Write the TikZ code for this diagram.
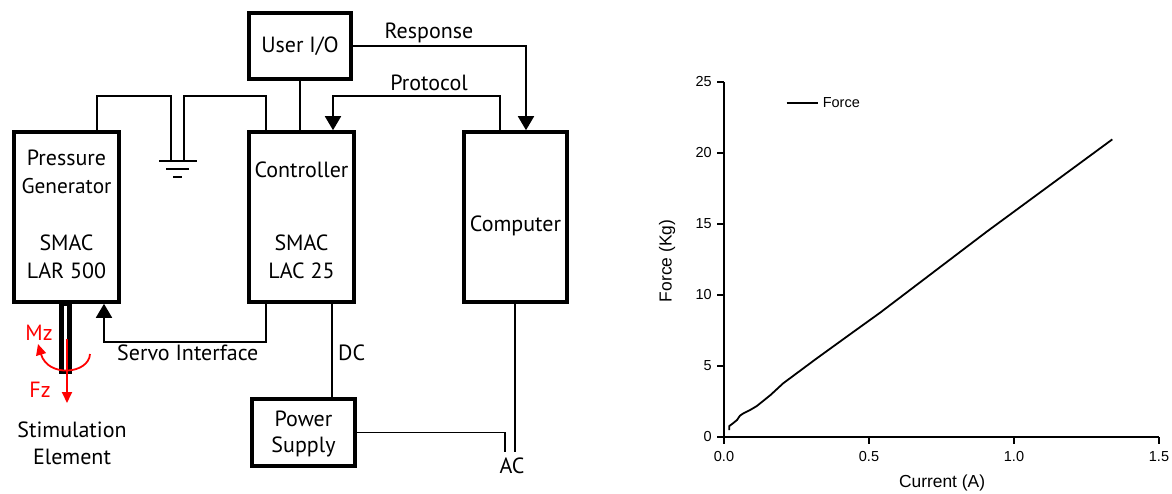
\documentclass[tikz,border=0pt]{standalone}
\usepackage{fontspec}
\setmainfont{PT Sans}
\newfontfamily\plotfont{Liberation Sans}
\usetikzlibrary{arrows.meta,calc}
\begin{document}
\begin{tikzpicture}[x=1pt,y=-1pt,
  box/.style={draw,line width=3.6pt,inner sep=0pt},
  wire/.style={line width=1.8pt},
  arr/.style={wire,-{Triangle[width=16pt,length=14pt]}},
  lbl/.style={font=\fontsize{22}{26}\selectfont,inner sep=0pt},
  rlbl/.style={lbl,text=red},
  redarr/.style={red,line width=1.8pt,-{Triangle[width=10pt,length=11pt]}},
  ax/.style={line width=1.6pt},
  tlbl/.style={font=\plotfont\fontsize{14.5}{17}\selectfont,inner sep=0pt},
  albl/.style={font=\plotfont\fontsize{17.4}{20}\selectfont,inner sep=0pt},
  data/.style={line width=1.8pt,line join=round}
]
\useasboundingbox (0,0) rectangle (1172,494);

% boxes
\node[box,minimum width=105pt,minimum height=170pt] (pg) at (66.5,217) {};
\node[box,minimum width=105pt,minimum height=170pt] (ctrl) at (301.5,217) {};
\node[box,minimum width=103pt,minimum height=170pt] (comp) at (515.5,217) {};
\node[box,minimum width=102pt,minimum height=66pt] (uio) at (300,46) {};
\node[box,minimum width=103pt,minimum height=67pt] (psu) at (303.5,432.5) {};

% box texts
\node[lbl] (pg1) at (66.5,158) {Pressure};
\node[lbl,font=\fontsize{21.3}{26}\selectfont] (pg2) at (66.5,186) {Generator};
\node[lbl] (pg3) at (66.5,243) {SMAC};
\node[lbl] (pg4) at (66.5,271) {LAR 500};
\node[lbl] (ct1) at (301.5,170) {Controller};
\node[lbl] (ct2) at (301.5,243) {SMAC};
\node[lbl] (ct3) at (301.5,271) {LAC 25};
\node[lbl] (cp1) at (515.5,226) {Computer};
\node[lbl] (ui1) at (300,46) {User I/O};
\node[lbl] (ps1) at (303.5,419) {Power};
\node[lbl] (ps2) at (303.5,447) {Supply};

% connectors
\draw[wire] (uio.south) -- (uio.south |- ctrl.north);
\draw[arr] (uio.east) -| ([xshift=10.5pt]comp.north);
\draw[arr] ([xshift=-15.5pt]comp.north) -- ++(0,-34) -| ([xshift=31.5pt]ctrl.north);
\node[lbl] (resp) at (429,33) {Response};
\node[lbl] (prot) at (429,83) {Protocol};

% ground
\coordinate (gnd) at (178,161);
\draw[wire] ([xshift=-35.5pt]ctrl.north) -- ++(0,-34) -| ([xshift=6pt]gnd);
\draw[wire] ([xshift=30.5pt]pg.north) -- ++(0,-34) -| ([xshift=-7pt]gnd);
\draw[wire] ([xshift=-19pt]gnd) -- ([xshift=19pt]gnd);
\draw[wire] ($(gnd)+(-12,8)$) -- ($(gnd)+(11,8)$);
\draw[wire] ($(gnd)+(-5,16)$) -- ($(gnd)+(4,16)$);

% servo
\draw[arr] ([xshift=-35.5pt]ctrl.south) -- ++(0,38) -| ([xshift=37.5pt]pg.south);
\node[lbl,anchor=west] (servo) at (117,353) {Servo Interface};

% DC
\draw[wire] ([xshift=30.5pt]ctrl.south) -- ([xshift=30.5pt]ctrl.south |- psu.north);
\node[lbl,anchor=west] (dc) at (338,353) {DC};

% AC
\coordinate (ac1) at (505,452);
\coordinate (ac2) at (515,452);
\draw[wire] (psu.east) -| (ac1);
\draw[wire] (comp.south -| ac2) -- (ac2);
\node[lbl] (ac) at (512,466) {AC};

% rod and forces
\draw[line width=4.5pt] (61.5,304) rectangle (69.5,372);
\draw[redarr] (67,339) -- (67,403);
\draw[redarr] (90,354) .. controls (89,374) and (48,378) .. (38,344);
\node[rlbl] (mz) at (39,333) {Mz};
\node[rlbl] (fz) at (40,390) {Fz};
\node[lbl,align=center,font=\fontsize{22}{27}\selectfont] (stim) at (72,443) {Stimulation\\Element};

% graph
\begin{scope}[shift={(724pt,-437pt)},x=290pt,y=14.2pt]
  \draw[ax] (0,0) -- (1.5,0);
  \draw[ax] (0,0) -- (0,25);
  \foreach \v in {0,5,10,15,20,25} {
    \draw[ax] (0,\v) -- ++(-7pt,0);
    \node[tlbl,anchor=east] (yt\v) at ([xshift=-12pt]0,\v) {\v};
  }
  \foreach \v/\t in {0/0.0,0.5/0.5,1/1.0,1.5/1.5} {
    \draw[ax] (\v,0) -- ++(0,-7pt);
    \node[tlbl] (xt\v) at ([yshift=-20pt]\v,0) {\t};
  }
  \node[albl] (xlab) at (0.752,-3.25) {Current (A)};
  \node[albl,rotate=90] (ylab) at ([xshift=-57pt]0,12.4) {Force (Kg)};
  \draw[data] (0.2155,23.52) -- (0.3224,23.52);
  \node[tlbl,anchor=west] (leg) at (0.34,23.52) {Force};
  \draw[data] plot coordinates {(0.018,0.49) (0.018,0.77) (0.03,0.95) (0.045,1.2) (0.055,1.5) (0.067,1.67) (0.09,1.9) (0.113,2.18) (0.16,2.95) (0.204,3.78) (0.32,5.54) (0.446,7.4) (0.538,8.75) (0.906,14.46) (1.339,20.96)};
\end{scope}
\end{tikzpicture}
\end{document}
